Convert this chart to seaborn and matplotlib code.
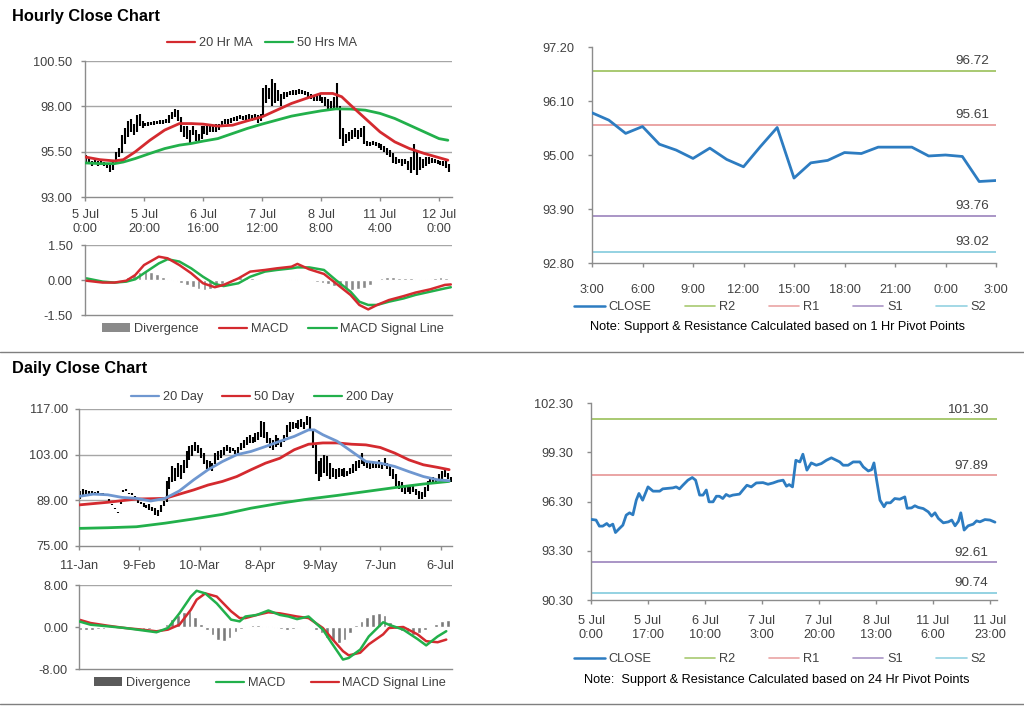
import numpy as np
import pandas as pd
import matplotlib
matplotlib.use("Agg")
import matplotlib.pyplot as plt
import seaborn as sns
from matplotlib.lines import Line2D
from matplotlib.patches import Patch

# ---------------- hourly close chart (left) ----------------
hr_lo = [94.9, 94.8, 94.7, 94.8, 94.7, 94.75, 94.7, 94.6, 94.4, 94.5,
         94.9, 95.2, 95.4, 95.9, 96.3, 96.6, 96.4, 96.6, 96.9, 96.8,
         96.9, 96.9, 96.95, 96.95, 97.0, 97.0, 97.0, 97.1, 97.1, 97.3,
         97.4, 97.2, 96.6, 96.3, 96.2, 96.0, 96.4, 96.1, 96.0, 96.2,
         96.5, 96.4, 96.6, 96.6, 96.6, 96.7, 96.9, 97.0, 97.05, 97.1,
         97.2, 97.2, 97.3, 97.25, 97.2, 97.3, 97.2, 97.3, 97.1, 97.2,
         97.5, 98.2, 98.4, 98.0, 98.2, 98.3, 98.0, 98.4, 98.5, 98.6,
         98.6, 98.65, 98.7, 98.7, 98.6, 98.5, 98.4, 98.3, 98.3, 98.3,
         98.2, 98.0, 97.8, 97.8, 97.9, 97.9, 96.2, 95.8, 96.0, 96.1,
         96.2, 96.3, 96.2, 96.3, 95.9, 95.8, 95.8, 95.85, 95.8, 95.7,
         95.6, 95.5, 95.3, 95.2, 94.9, 94.8, 94.9, 94.7, 94.8, 94.5,
         94.3, 94.5, 94.2, 94.5, 94.6, 94.7, 94.8, 94.85, 94.85, 94.8,
         94.75, 94.7, 94.6, 94.4]
hr_hi = [95.3, 95.1, 95.0, 95.1, 95.0, 95.0, 94.95, 94.9, 94.9, 95.0,
         95.5, 95.7, 96.4, 96.8, 97.2, 97.3, 97.0, 97.5, 97.6, 97.2,
         97.1, 97.15, 97.15, 97.2, 97.2, 97.25, 97.25, 97.3, 97.5, 97.7,
         97.85, 97.8, 97.4, 96.9, 96.9, 96.7, 96.9, 96.7, 96.5, 96.9,
         96.9, 96.9, 96.9, 96.95, 97.0, 97.0, 97.2, 97.3, 97.3, 97.35,
         97.4, 97.45, 97.5, 97.45, 97.5, 97.55, 97.5, 97.6, 97.5, 97.6,
         99.0, 99.2, 99.0, 99.5, 99.3, 98.9, 98.7, 98.8, 98.8, 98.85,
         98.9, 98.9, 98.95, 98.9, 98.85, 98.8, 98.7, 98.6, 98.55, 98.6,
         98.5, 98.5, 98.4, 98.3, 98.5, 99.3, 98.0, 96.8, 96.5, 96.6,
         96.7, 96.8, 96.7, 96.8, 96.9, 96.1, 96.05, 96.1, 96.05, 96.0,
         95.9, 95.8, 95.7, 95.6, 95.4, 95.2, 95.1, 95.1, 95.1, 95.0,
         95.2, 95.9, 95.5, 95.2, 95.1, 95.2, 95.2, 95.15, 95.1, 95.05,
         95.0, 95.0, 95.0, 94.8]

hr_ma_x = [0, 5, 10, 13, 17, 22, 27, 32, 36, 40, 45, 50, 55, 60, 65, 70, 75, 80,
           84, 87, 90, 95, 100, 105, 110, 115, 120, 123]
hr_ma20 = [95.21, 95.06, 94.99, 95.06, 95.49, 96.13, 96.69, 97.05, 97.05, 97.02,
           96.91, 96.96, 97.20, 97.42, 97.79, 98.16, 98.44, 98.71, 98.71, 98.53,
           98.07, 97.33, 96.59, 96.04, 95.67, 95.40, 95.17, 95.03]
hr_ma50_x = [0, 5, 10, 13, 17, 22, 27, 32, 36, 40, 45, 50, 55, 60, 65, 70, 75, 80,
             85, 90, 95, 100, 105, 110, 115, 120, 123]
hr_ma50 = [94.88, 94.84, 94.84, 94.93, 95.12, 95.40, 95.67, 95.86, 95.95, 96.08,
           96.22, 96.50, 96.78, 97.02, 97.24, 97.46, 97.61, 97.75, 97.86, 97.85,
           97.79, 97.61, 97.33, 96.96, 96.59, 96.22, 96.13]
hr_ticks = ['5 Jul\n0:00', '5 Jul\n20:00', '6 Jul\n16:00', '7 Jul\n12:00',
            '8 Jul\n8:00', '11 Jul\n4:00', '12 Jul\n0:00']

hr_macd_x = [0.5, 6, 10, 14, 17, 20, 25, 28, 32, 36, 40, 44, 47, 52, 56, 61, 65, 70,
             72, 76, 81, 85, 90, 93, 96, 99, 103, 108, 112, 117, 122, 124]
hr_macd = [-0.03, -0.11, -0.11, -0.03, 0.21, 0.64, 1.0, 0.93, 0.64, 0.29, -0.14,
           -0.31, -0.21, 0.07, 0.36, 0.43, 0.5, 0.57, 0.69, 0.46, 0.26, -0.14,
           -0.64, -1.07, -1.26, -1.07, -0.86, -0.69, -0.54, -0.40, -0.21, -0.19]
hr_signal = [0.07, -0.07, -0.11, -0.07, 0.03, 0.29, 0.71, 0.89, 0.79, 0.5, 0.14,
             -0.17, -0.26, -0.14, 0.14, 0.36, 0.43, 0.5, 0.54, 0.54, 0.43, 0.0,
             -0.5, -0.93, -1.07, -1.07, -0.93, -0.79, -0.64, -0.5, -0.36, -0.31]
hr_div = [0.0, -0.02, -0.03, -0.03, -0.02, 0.0, 0.05, 0.15, 0.25, 0.35, 0.4, 0.35,
          0.25, 0.15, 0.05, -0.05, -0.12, -0.22, -0.32, -0.4, -0.42, -0.38, -0.3,
          -0.15, -0.02, 0.08, 0.12, 0.1, 0.08, 0.05, 0.03, 0.02, 0.02, 0.02, 0.03,
          0.04, 0.03, 0.0, -0.05, -0.1, -0.12, -0.18, -0.25, -0.32, -0.38, -0.42,
          -0.4, -0.35, -0.2, 0.02, 0.1, 0.12, 0.12, 0.1, 0.1, 0.08, 0.05, 0.04,
          0.06, 0.1, 0.12, 0.1]

# ---------------- 1 hr pivot chart (right) ----------------
h1_close = [95.86, 95.71, 95.44, 95.58, 95.22, 95.10, 94.93, 95.14, 94.91, 94.76,
            95.17, 95.56, 94.53, 94.84, 94.89, 95.05, 95.03, 95.16, 95.16, 95.16,
            94.98, 95.00, 94.97, 94.46, 94.48]
h1_ticks = ['3:00', '6:00', '9:00', '12:00', '15:00', '18:00', '21:00', '0:00', '3:00']
h1_pivots = {'R2': 96.72, 'R1': 95.61, 'S1': 93.76, 'S2': 93.02}

# ---------------- daily close chart (left) ----------------
d_lo = [89.5, 90.2, 90.8, 90.9, 91.0, 90.9, 91.0, 90.8, 90.6, 90.5,
        88.8, 87.5, 86.3, 85.0, 88.0, 91.5, 91.8, 90.9, 90.6, 89.6,
        88.2, 87.8, 87.0, 86.5, 86.0, 85.8, 84.5, 84.3, 85.5, 87.2,
        88.5, 92.5, 94.5, 95.0, 96.0, 95.5, 97.5, 99.0, 101.5, 102.5,
        104.0, 103.5, 102.0, 100.0, 98.5, 99.0, 98.0, 100.0, 101.5, 102.0,
        103.0, 104.0, 103.5, 104.0, 103.2, 103.5, 104.5, 105.0, 106.0, 106.5,
        106.5, 107.0, 107.5, 108.5, 108.0, 106.5, 105.0, 104.5, 105.5, 106.0,
        105.5, 107.0, 108.5, 110.0, 111.0, 111.2, 111.0, 111.5, 111.0, 112.0,
        111.0, 105.0, 97.0, 95.0, 96.0, 97.5, 96.5, 95.5, 96.0, 95.5,
        96.0, 96.5, 96.0, 96.5, 97.0, 97.5, 98.0, 99.0, 100.0, 99.5,
        99.0, 98.5, 99.0, 98.8, 99.0, 98.5, 99.5, 98.5, 96.5, 95.5,
        93.5, 92.5, 91.5, 91.0, 91.5, 91.0, 91.5, 90.5, 89.5, 89.5,
        90.0, 92.0, 94.0, 94.5, 94.0, 95.0, 95.5, 96.0, 95.5, 94.5]
d_hi = [91.8, 92.5, 92.2, 91.8, 92.0, 91.6, 92.0, 91.4, 91.2, 91.0,
        89.3, 88.0, 86.8, 85.5, 88.5, 92.2, 92.5, 91.4, 91.2, 90.2,
        89.0, 88.5, 88.2, 87.5, 87.8, 87.0, 86.5, 86.0, 87.5, 88.8,
        95.0, 96.0, 99.5, 99.0, 100.5, 99.8, 101.5, 104.0, 105.8, 106.0,
        106.8, 106.0, 105.0, 103.5, 101.5, 101.0, 100.5, 103.5, 104.0, 104.5,
        105.5, 106.0, 105.5, 105.0, 104.5, 105.5, 106.5, 107.5, 108.5, 109.0,
        108.5, 109.5, 110.0, 113.3, 113.0, 110.0, 108.0, 107.5, 109.0, 108.0,
        107.5, 109.0, 112.0, 113.0, 113.0, 112.8, 113.5, 114.0, 113.0, 115.0,
        114.5, 111.0, 106.0, 101.0, 102.0, 103.0, 102.5, 100.5, 99.0, 98.5,
        99.0, 98.5, 99.0, 98.0, 99.0, 100.0, 101.0, 101.5, 103.5, 101.5,
        101.0, 100.5, 100.5, 100.8, 101.5, 100.5, 102.0, 100.5, 99.5, 98.5,
        97.0, 95.0, 94.5, 93.5, 93.5, 93.0, 93.8, 92.5, 92.0, 91.5,
        93.0, 95.0, 96.0, 96.0, 95.5, 97.0, 98.0, 98.5, 97.5, 96.0]

d_ma20_x = [0, 5, 10, 15, 20, 25, 30, 35, 40, 45, 50, 55, 60, 65, 70, 75, 80, 82,
            85, 90, 95, 100, 105, 110, 115, 120, 125, 129]
d_ma20 = [90.2, 90.9, 90.7, 89.9, 89.6, 88.8, 89.6, 91.9, 95.3, 98.4, 100.9, 103.0,
          104.0, 105.5, 107.1, 108.6, 110.6, 110.6, 109.1, 107.1, 104.0, 100.9,
          100.4, 99.4, 97.8, 96.3, 95.3, 95.0]
d_ma50_x = [0, 10, 20, 30, 35, 40, 45, 50, 55, 60, 65, 70, 75, 80, 85, 90, 95, 100,
            105, 110, 115, 120, 125, 129]
d_ma50 = [87.6, 88.4, 89.4, 89.6, 90.9, 92.2, 93.7, 94.8, 96.3, 98.4, 100.4, 101.9,
          104.5, 106.2, 106.6, 106.6, 106.2, 106.0, 105.2, 103.5, 101.4, 99.9,
          99.1, 98.4]
d_ma200_x = [0, 10, 20, 30, 40, 50, 60, 70, 80, 90, 100, 110, 120, 129]
d_ma200 = [80.4, 80.6, 80.9, 82.0, 83.3, 84.7, 86.6, 88.1, 89.4, 90.5, 91.7, 92.9,
           94.0, 94.8]
d_ticks = ['11-Jan', '9-Feb', '10-Mar', '8-Apr', '9-May', '7-Jun', '6-Jul']

d_macd_x = [0, 4, 10, 16, 22, 27, 31, 35, 39, 41, 44, 48, 53, 56, 58, 62, 66, 70,
            73, 76, 80, 85, 88, 92, 94, 98, 101, 106, 108, 113, 118, 121, 125, 128]
d_macd = [1.07, 0.44, 0.13, -0.19, -0.63, -1.0, -0.19, 2.6, 5.8, 6.9, 6.4, 4.5,
          1.4, 1.07, 2.0, 2.3, 3.15, 2.3, 2.0, 1.5, 2.0, -0.5, -3.0, -6.2, -5.9,
          -4.3, -1.8, 0.9, 0.44, -0.5, -2.3, -3.5, -1.8, -0.8]
d_signal = [1.4, 0.76, 0.25, -0.19, -0.5, -0.82, -0.5, 0.44, 3.3, 5.2, 6.4, 5.8,
            3.0, 1.7, 1.7, 2.3, 2.8, 2.6, 2.3, 2.0, 1.7, -0.19, -2.1, -4.6, -5.4,
            -4.9, -3.3, -1.4, -0.19, 0.0, -1.4, -2.7, -2.9, -2.4]
d_div = [-0.6, -0.5, -0.5, -0.4, -0.3, -0.2, -0.1, 0.0, 0.0, -0.1, -0.2, -0.3,
         -0.3, -0.2, 0.0, 0.5, 1.5, 2.3, 2.8, 3.0, 2.0, 0.5, -0.6, -1.6, -2.4,
         -2.6, -2.0, -0.9, -0.3, 0.2, 0.3, 0.3, 0.2, 0.2, -0.2, -0.4, -0.5, -0.3,
         -0.1, 0.0, 0.1, -0.5, -1.2, -2.0, -2.6, -3.0, -2.4, -1.2, 0.3, 1.2, 2.0,
         2.5, 2.6, 2.2, 1.0, -0.3, -0.8, -1.2, -1.5, -1.2, -0.6, 0.0, 0.6, 1.1, 1.3]

# ---------------- 24 hr pivot chart (right) ----------------
h24_x = [0, 1.5, 2.5, 3.5, 4.7, 5.5, 6.5, 7.3, 8.5, 9.5, 10.5, 11.5, 12.5, 13.5,
         14.3, 15.4, 17, 18.5, 20.5, 21.4, 24.4, 25.4, 26.4, 27.4, 28.9, 30.2,
         31.2, 32.4, 33.4, 34.4, 35.2, 36.4, 37.4, 38.3, 39.3, 40.3, 41.3, 42.3,
         44.3, 45.3, 46.5, 47.8, 49.3, 51.3, 52.8, 54.3, 55.8, 57.3, 58.3, 59.1,
         60.1, 61.1, 62.3, 63.2, 64.4, 65.7, 67.2, 68.7, 70.2, 71.7, 73.2, 74.2,
         75.2, 76.7, 78.2, 80.2, 81.2, 82.7, 83.7, 84.4, 85.2, 86.2, 87.4, 88.1,
         89.3, 90.6, 92.1, 93.6, 94.3, 95.6, 96.6, 97.6, 99.1, 100.6, 101.6, 102.6,
         103.6, 105.1, 106.6, 107.6, 108.6, 109.6, 110.3, 111.3, 112.5, 114, 115,
         116, 117.5, 119, 120.5]
h24_close = [95.21, 95.17, 94.80, 94.80, 94.96, 94.80, 94.92, 94.41, 94.66, 94.86,
             95.47, 95.61, 95.49, 96.38, 96.79, 96.38, 97.19, 96.93, 96.93, 97.07,
             97.13, 97.19, 97.07, 97.29, 97.60, 97.76, 97.60, 96.69, 96.69, 97.00,
             96.28, 96.28, 96.62, 96.62, 96.48, 96.73, 96.62, 96.69, 96.75, 97.00,
             97.29, 97.19, 97.43, 97.45, 97.35, 97.43, 97.54, 97.60, 97.23, 97.33,
             97.19, 98.81, 98.71, 99.18, 98.21, 98.65, 98.51, 98.61, 98.81, 98.96,
             98.81, 98.71, 98.51, 98.51, 98.71, 98.71, 98.41, 98.16, 98.24, 98.65,
             97.60, 96.38, 95.98, 96.22, 96.22, 96.48, 96.44, 96.58, 95.89, 95.91,
             96.04, 95.94, 95.87, 95.67, 95.41, 95.61, 95.27, 95.00, 95.06, 95.17,
             94.82, 95.10, 95.61, 94.56, 94.82, 94.92, 95.12, 95.06, 95.20, 95.17,
             95.04]
h24_ticks = ['5 Jul\n0:00', '5 Jul\n17:00', '6 Jul\n10:00', '7 Jul\n3:00',
             '7 Jul\n20:00', '8 Jul\n13:00', '11 Jul\n6:00', '11 Jul\n23:00']
h24_pivots = {'R2': 101.30, 'R1': 97.89, 'S1': 92.61, 'S2': 90.74}

# ---------------- style ----------------
sns.set_theme(style="white")
plt.rcParams['font.family'] = ['Liberation Sans', 'DejaVu Sans']

FS = 9.2
GRID = '#a6a6a6'
AXC = '#8c8c8c'
TXT = '#404040'
RED = '#d42a2f'
GREEN = '#22b04b'
BLUE20 = '#6f97d0'
CLOSE = '#2d7cc1'
DIVC = '#8a8a8a'
PIVC = {'R2': '#a8c971', 'R1': '#eaa4a4', 'S1': '#a995c6', 'S2': '#94d2e2'}

fig = plt.figure(figsize=(10.24, 7.06), dpi=100)


def box(l, t, r, b):
    return fig.add_axes([l / 1024, 1 - b / 706, (r - l) / 1024, (b - t) / 706])


def base_style(ax, ticks_x=True, xpad=3, ypad=3):
    for s in ['top', 'right']:
        ax.spines[s].set_visible(False)
    for s in ['left', 'bottom']:
        ax.spines[s].set_color(AXC)
        ax.spines[s].set_linewidth(1)
    ax.tick_params(axis='both', labelsize=FS, labelcolor=TXT, colors=AXC,
                   length=3, width=1, direction='out', left=True, bottom=ticks_x)
    ax.tick_params(axis='x', pad=xpad)
    ax.tick_params(axis='y', pad=ypad)
    for lab in ax.get_xticklabels() + ax.get_yticklabels():
        lab.set_color(TXT)
    ax.set_xlabel('')
    ax.set_ylabel('')


def yfmt(ax, yt):
    ax.set_ylim(yt[0], yt[-1])
    ax.set_yticks(yt)
    ax.set_yticklabels([f'{v:.2f}' for v in yt])


def legend(handles, labels, cx, cy, colsp, hl=2.4):
    fig.legend(handles, labels, loc='center', bbox_to_anchor=(cx / 1024, 1 - cy / 706),
               ncol=len(handles), frameon=False, fontsize=FS, handlelength=hl,
               handletextpad=0.3, columnspacing=colsp, labelcolor=TXT)


# titles and separators
fig.text(12 / 1024, 1 - 16 / 706, 'Hourly Close Chart', fontsize=11.8, fontweight='bold',
         va='center', ha='left', color='black')
fig.text(12 / 1024, 1 - 369 / 706, 'Daily Close Chart', fontsize=11.8, fontweight='bold',
         va='center', ha='left', color='black')
for yy in [352, 704]:
    fig.add_artist(Line2D([0, 1], [1 - yy / 706] * 2, transform=fig.transFigure,
                          color='#7f7f7f', lw=1))

# ---- hourly price
ax = box(85, 61, 452, 197)
hx = np.arange(len(hr_lo)) + 0.5
for v in [95.5, 98.0, 100.5]:
    ax.axhline(v, color=GRID, lw=1, zorder=0)
ax.vlines(hx, hr_lo, hr_hi, color='black', lw=1.5, zorder=2)
sns.lineplot(x=hr_ma50_x, y=hr_ma50, ax=ax, color=GREEN, lw=2, zorder=3)
sns.lineplot(x=hr_ma_x, y=hr_ma20, ax=ax, color=RED, lw=2, zorder=4)
ax.set_xlim(0, 124.4)
ax.set_xticks(np.arange(0, 121, 20))
ax.set_xticklabels(hr_ticks, linespacing=1.15)
yfmt(ax, [93.0, 95.5, 98.0, 100.5])
base_style(ax, xpad=6, ypad=6)
legend([Line2D([], [], color=RED, lw=1.6), Line2D([], [], color=GREEN, lw=1.6)],
       ['20 Hr MA', '50 Hrs MA'], 262, 43, 1.0, hl=2.2)

# ---- hourly MACD
ax = box(85, 245, 452, 315)
ax.bar(np.arange(len(hr_div)) * 2 + 0.5, hr_div, width=1.3, color=DIVC, zorder=1)
sns.lineplot(x=hr_macd_x, y=hr_macd, ax=ax, color=RED, lw=1.8, zorder=3)
sns.lineplot(x=hr_macd_x, y=hr_signal, ax=ax, color=GREEN, lw=1.8, zorder=2)
ax.axhline(1.5, color=GRID, lw=1, zorder=0)
ax.set_xlim(0, 124.4)
ax.set_xticks([])
yfmt(ax, [-1.5, 0.0, 1.5])
base_style(ax, ticks_x=False, ypad=6)
legend([Patch(facecolor=DIVC, edgecolor='none'), Line2D([], [], color=RED, lw=1.6),
        Line2D([], [], color=GREEN, lw=1.6)],
       ['Divergence', 'MACD', 'MACD Signal Line'], 273, 329, 1.6, hl=2.2)

# ---- 1 hr pivot chart
ax = box(592, 47, 996, 263)
for k in ['R2', 'R1', 'S1', 'S2']:
    ax.axhline(h1_pivots[k], color=PIVC[k], lw=1.4, zorder=1)
    ax.text(23.6, h1_pivots[k] + 0.08, f'{h1_pivots[k]:.2f}', ha='right', va='bottom',
            fontsize=FS + 0.5, color=TXT)
sns.lineplot(x=np.arange(len(h1_close)), y=h1_close, ax=ax, color=CLOSE, lw=2, zorder=3)
ax.set_xlim(0, 24)
ax.set_xticks(np.arange(0, 25, 3))
ax.set_xticklabels(h1_ticks)
yfmt(ax, [92.8, 93.9, 95.0, 96.1, 97.2])
base_style(ax, xpad=12, ypad=10)
piv_handles = [Line2D([], [], color=CLOSE, lw=1.8)] + \
    [Line2D([], [], color=PIVC[k], lw=1.2) for k in ['R2', 'R1', 'S1', 'S2']]
legend(piv_handles, ['CLOSE', 'R2', 'R1', 'S1', 'S2'], 780, 307, 2.6)
fig.text(777 / 1024, 1 - 327 / 706,
         'Note: Support & Resistance Calculated based on 1 Hr Pivot Points',
         ha='center', va='center', fontsize=FS, color='black')

# ---- daily price
ax = box(79, 409, 452, 546)
dx = np.arange(len(d_lo)) + 0.5
for v in [89.0, 103.0, 117.0]:
    ax.axhline(v, color=GRID, lw=1, zorder=0)
ax.vlines(dx, d_lo, d_hi, color='black', lw=1.5, zorder=2)
sns.lineplot(x=d_ma200_x, y=d_ma200, ax=ax, color=GREEN, lw=2, zorder=3)
sns.lineplot(x=d_ma50_x, y=d_ma50, ax=ax, color=RED, lw=2, zorder=3)
sns.lineplot(x=d_ma20_x, y=d_ma20, ax=ax, color=BLUE20, lw=2, zorder=4)
ax.set_xlim(0, 130)
ax.set_xticks(np.arange(0, 127, 21))
ax.set_xticklabels(d_ticks)
yfmt(ax, [75.0, 89.0, 103.0, 117.0])
base_style(ax, xpad=7, ypad=5)
legend([Line2D([], [], color=BLUE20, lw=1.6), Line2D([], [], color=RED, lw=1.6),
        Line2D([], [], color=GREEN, lw=1.6)],
       ['20 Day', '50 Day', '200 Day'], 262, 397, 1.5, hl=2.2)

# ---- daily MACD
ax = box(79, 585, 452, 669)
ax.bar(np.arange(len(d_div)) * 2 + 0.5, d_div, width=1.3, color='#7a7a7a', zorder=1)
sns.lineplot(x=d_macd_x, y=d_signal, ax=ax, color=RED, lw=1.8, zorder=2)
sns.lineplot(x=d_macd_x, y=d_macd, ax=ax, color=GREEN, lw=1.8, zorder=3)
ax.axhline(8.0, color=GRID, lw=1, zorder=0)
ax.set_xlim(0, 130)
ax.set_xticks([])
yfmt(ax, [-8.0, 0.0, 8.0])
base_style(ax, ticks_x=False, ypad=5)
legend([Patch(facecolor='#5a5a5a', edgecolor='none'), Line2D([], [], color=GREEN, lw=1.6),
        Line2D([], [], color=RED, lw=1.6)],
       ['Divergence', 'MACD', 'MACD Signal Line'], 270, 683, 2.0, hl=2.2)

# ---- 24 hr pivot chart
ax = box(591, 403, 997, 600)
for k in ['R2', 'R1', 'S1', 'S2']:
    ax.axhline(h24_pivots[k], color=PIVC[k], lw=1.4, zorder=1)
    ax.text(118.5, h24_pivots[k] + 0.2, f'{h24_pivots[k]:.2f}', ha='right', va='bottom',
            fontsize=FS + 0.5, color=TXT)
sns.lineplot(x=h24_x, y=h24_close, ax=ax, color=CLOSE, lw=2, zorder=3)
ax.set_xlim(0, 121.1)
ax.set_xticks(np.arange(0, 120, 17))
ax.set_xticklabels(h24_ticks, linespacing=1.15)
yfmt(ax, [90.3, 93.3, 96.3, 99.3, 102.3])
base_style(ax, xpad=8, ypad=10)
legend(piv_handles, ['CLOSE', 'R2', 'R1', 'S1', 'S2'], 780, 659, 2.6)
fig.text(777 / 1024, 1 - 680 / 706,
         'Note:  Support & Resistance Calculated based on 24 Hr Pivot Points',
         ha='center', va='center', fontsize=FS, color='black')

fig.savefig('out.png', dpi=100)
